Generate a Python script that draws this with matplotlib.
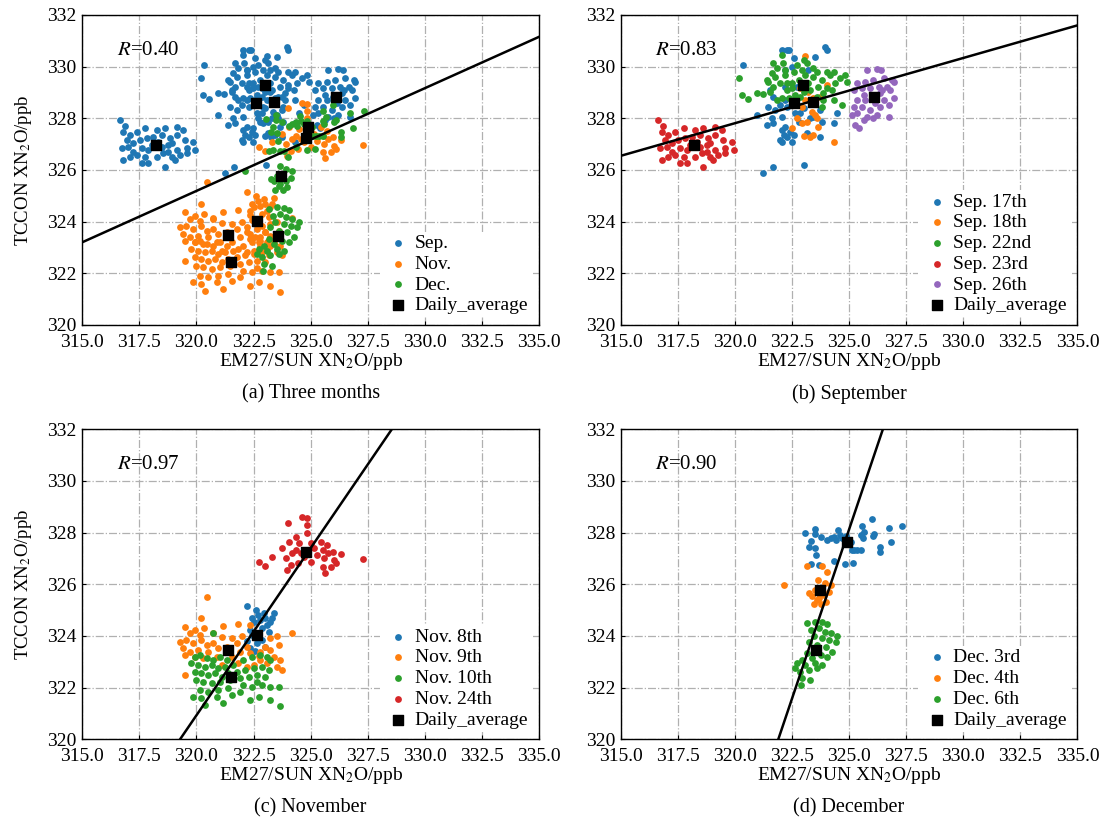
import numpy as np
import matplotlib
matplotlib.use("Agg")
import matplotlib.pyplot as plt

plt.rcParams['font.family'] = ['Liberation Serif', 'DejaVu Serif']
plt.rcParams['mathtext.fontset'] = 'stix'

# --- scatter points per day (EM27/SUN x, TCCON y) ---
sep17_x = [320.35, 321.25, 321.66, 323.04, 322.06, 322.28, 322.39, 322.57, 322.49, 323.22, 323.52, 323.96,
           324.03, 322.20, 321.54, 321.69, 321.47, 321.76, 321.62, 321.40, 321.69, 322.06, 322.20, 322.13,
           322.28, 321.98, 322.06, 322.49, 322.42, 322.57, 322.64, 322.86, 322.71, 323.01, 323.15, 323.30,
           323.74, 323.81, 324.32, 324.47, 322.57, 322.28, 321.98, 320.96, 322.06, 322.79, 322.20, 323.74,
           323.44, 322.20, 322.71]
sep17_y = [330.06, 325.87, 326.13, 326.19, 330.65, 330.65, 330.65, 330.32, 330.00, 329.87, 330.39, 330.77,
           330.65, 329.87, 329.10, 328.84, 328.45, 328.32, 328.00, 327.74, 327.81, 328.06, 327.68, 327.35,
           327.29, 327.16, 327.10, 327.10, 327.48, 327.35, 328.19, 328.19, 328.52, 328.39, 327.42, 328.00,
           327.29, 327.87, 327.81, 328.19, 328.71, 328.45, 328.52, 328.13, 327.55, 327.87, 329.23, 328.32,
           328.06, 328.71, 329.23]
sep18_x = [323.08, 322.49, 323.01, 323.27, 323.44, 323.15, 322.93, 323.37, 323.59, 323.66, 323.52, 322.93,
           323.08, 322.86, 323.44, 323.74, 324.03, 324.32, 322.71, 323.22]
sep18_y = [330.41, 327.64, 327.32, 327.26, 327.35, 327.87, 327.81, 328.26, 328.00, 327.68, 328.13, 328.45,
           328.71, 329.16, 328.77, 328.84, 329.29, 327.10, 328.00, 329.03]
sep22_x = [320.20, 320.30, 320.57, 320.96, 321.22, 321.40, 321.62, 321.69, 321.84, 322.06, 322.10, 322.20,
           321.98, 321.69, 321.47, 322.28, 322.49, 322.57, 322.71, 322.79, 322.93, 323.01, 323.22, 323.44,
           323.59, 323.66, 323.81, 324.03, 324.17, 324.25, 323.88, 324.39, 324.61, 324.83, 324.91, 324.69,
           324.32, 323.88, 323.44, 323.15, 322.49, 322.06, 321.84, 323.01, 322.20, 323.81, 324.03, 323.59,
           322.86, 322.35, 322.64, 323.30, 323.08, 324.32, 321.76, 321.54, 322.28]
sep22_y = [329.55, 328.90, 328.74, 328.97, 328.93, 329.48, 329.74, 330.13, 329.94, 330.45, 330.13, 329.68,
           329.35, 329.20, 329.42, 329.10, 329.35, 329.81, 330.06, 329.48, 329.87, 329.03, 329.35, 329.61,
           329.81, 329.23, 329.48, 329.81, 329.68, 329.10, 328.97, 329.35, 329.55, 329.68, 329.42, 328.52,
           328.71, 328.71, 329.94, 330.13, 329.16, 328.77, 328.71, 330.26, 329.87, 328.45, 329.16, 328.84,
           328.84, 328.77, 328.90, 329.10, 329.68, 329.81, 329.61, 329.03, 329.35]
sep23_x = [316.65, 316.87, 316.80, 317.09, 317.38, 317.75, 318.26, 318.62, 319.13, 319.43, 316.94, 317.24,
           317.53, 317.82, 318.11, 318.48, 318.84, 319.13, 319.50, 319.86, 316.72, 317.02, 317.60, 317.89,
           318.48, 318.77, 319.13, 319.57, 319.94, 316.80, 317.09, 317.38, 317.75, 318.26, 318.55, 318.92,
           319.28, 319.57, 317.60, 317.89, 318.62, 319.06, 317.24, 318.33, 318.92, 318.77, 318.04]
sep23_y = [327.94, 327.70, 327.48, 327.35, 327.48, 327.61, 327.55, 327.61, 327.68, 327.55, 327.16, 327.03,
           327.16, 327.23, 327.29, 327.35, 327.23, 327.35, 327.16, 327.10, 326.84, 326.90, 326.84, 326.77,
           326.90, 326.97, 326.77, 326.84, 326.77, 326.39, 326.52, 326.58, 326.52, 326.52, 326.65, 326.52,
           326.58, 326.65, 326.26, 326.26, 326.13, 326.39, 326.71, 327.10, 327.03, 326.71, 326.97]
sep26_x = [325.78, 326.22, 326.40, 325.34, 325.71, 326.07, 326.51, 326.88, 326.95, 325.20, 325.56, 325.93,
           326.29, 326.66, 325.64, 326.00, 326.37, 326.80, 326.95, 325.34, 325.71, 326.15, 326.51, 325.20,
           325.56, 325.93, 326.37, 326.73, 325.34, 325.78, 326.22, 326.73, 325.27, 325.42, 325.64, 326.04,
           326.44, 325.12]
sep26_y = [329.87, 329.90, 329.87, 329.35, 329.42, 329.48, 329.55, 329.48, 329.42, 329.10, 329.16, 329.16,
           329.23, 329.23, 328.90, 328.84, 328.97, 329.10, 328.77, 328.71, 328.71, 328.58, 328.71, 328.45,
           328.45, 328.32, 328.45, 328.52, 328.19, 328.06, 328.13, 328.06, 327.74, 327.61, 327.94, 328.00,
           329.10, 328.13]

nov8_x = [322.21, 322.62, 322.68, 322.43, 322.79, 323.02, 323.21, 323.41, 323.09, 322.87, 323.16, 322.65,
          322.35, 322.43, 322.87, 323.02, 322.65, 322.57, 322.35, 322.21, 322.53, 322.94, 323.31]
nov8_y = [325.16, 325.01, 324.81, 324.68, 324.62, 324.68, 324.56, 324.90, 324.43, 324.30, 324.17, 324.11,
          324.24, 324.05, 323.85, 323.59, 323.72, 323.40, 323.53, 323.79, 324.56, 324.88, 324.68]
nov9_x = [320.47, 320.22, 319.49, 319.93, 320.32, 321.18, 321.84, 322.35, 320.74, 321.10, 321.54, 321.99,
          319.26, 319.56, 319.85, 320.22, 320.44, 320.74, 319.41, 319.71, 320.07, 320.51, 320.96, 321.32,
          321.77, 322.21, 319.49, 319.93, 320.29, 320.88, 321.91, 322.35, 322.79, 323.24, 323.53, 323.60,
          323.24, 323.38, 323.68, 323.09, 323.53, 323.75, 322.79, 322.50, 322.21, 324.19, 319.49, 321.10,
          321.84, 321.54, 319.71, 320.15, 322.72, 323.02]
nov9_y = [325.52, 324.68, 324.36, 324.23, 324.30, 324.39, 324.47, 324.43, 324.10, 323.95, 323.91, 323.98,
          323.78, 323.85, 323.72, 323.85, 323.65, 323.72, 323.52, 323.39, 323.46, 323.39, 323.52, 323.59,
          323.72, 323.59, 323.27, 323.20, 323.14, 323.20, 323.39, 323.33, 323.39, 323.91, 323.98, 323.65,
          323.46, 323.20, 323.07, 322.94, 322.81, 322.69, 323.07, 322.88, 322.81, 324.13, 322.49, 322.88,
          322.94, 323.20, 324.10, 324.04, 323.23, 323.59]
nov10_x = [320.71, 319.93, 320.15, 320.44, 320.74, 321.03, 321.32, 319.78, 320.07, 320.37, 320.66, 320.96,
           321.25, 321.62, 322.06, 322.43, 322.79, 323.09, 323.24, 319.93, 320.22, 320.51, 320.81, 321.10,
           321.40, 321.77, 322.13, 322.50, 322.87, 323.16, 320.00, 320.29, 320.66, 321.03, 321.47, 321.91,
           322.28, 322.65, 323.02, 320.15, 320.51, 320.96, 321.40, 322.06, 322.43, 322.87, 323.24, 323.60,
           320.22, 320.88, 321.54, 322.35, 322.72, 323.24, 323.68, 320.37, 321.18, 319.85, 321.91, 322.65]
nov10_y = [324.13, 323.20, 323.27, 323.14, 323.07, 323.20, 323.07, 322.94, 322.88, 322.81, 322.88, 322.75,
           322.81, 322.88, 323.07, 323.20, 323.27, 323.20, 323.07, 322.62, 322.56, 322.49, 322.56, 322.43,
           322.56, 322.62, 322.69, 322.75, 322.81, 322.69, 322.30, 322.23, 322.17, 322.23, 322.30, 322.36,
           322.43, 322.49, 322.43, 321.91, 321.85, 321.91, 321.98, 322.10, 322.04, 322.10, 322.04, 322.04,
           321.59, 321.65, 321.72, 321.52, 321.65, 321.52, 321.27, 321.33, 321.40, 321.65, 321.85, 322.20]
nov24_x = [324.63, 324.82, 324.85, 324.00, 324.85, 324.38, 324.05, 324.49, 325.00, 325.44, 325.71, 325.52,
           326.00, 325.74, 326.33, 327.28, 326.03, 325.59, 325.30, 325.00, 323.75, 323.31, 324.19, 323.90,
           324.12, 323.97, 324.44, 322.72, 322.99, 325.52, 325.88, 325.62, 324.71, 325.15, 324.34, 324.56,
           326.10]
nov24_y = [328.59, 328.55, 328.30, 328.39, 328.00, 327.82, 327.65, 327.59, 327.61, 327.65, 327.52, 327.33,
           327.26, 327.20, 327.17, 326.98, 326.94, 327.01, 327.14, 326.88, 327.39, 327.07, 327.20, 327.01,
           326.75, 326.56, 326.81, 326.88, 326.72, 326.68, 326.68, 326.45, 327.07, 327.39, 327.33, 327.20,
           326.81]

dec3_x = [323.06, 323.50, 323.50, 323.75, 323.35, 323.26, 323.53, 323.56, 324.04, 324.19, 324.34, 324.41,
          324.53, 324.59, 324.71, 324.85, 325.07, 325.22, 325.37, 325.52, 325.12, 325.52, 325.59, 325.66,
          325.56, 326.00, 326.10, 326.03, 326.74, 327.32, 326.84, 326.35, 326.35, 324.34, 324.82, 325.18,
          323.35, 323.68]
dec3_y = [327.97, 328.13, 327.94, 327.85, 327.68, 327.46, 327.42, 327.14, 327.72, 327.78, 327.85, 327.72,
          328.10, 327.91, 327.78, 327.88, 327.65, 327.33, 327.33, 327.33, 327.33, 327.91, 327.78, 328.04,
          328.27, 328.53, 327.94, 327.87, 328.19, 328.27, 327.63, 327.46, 327.26, 326.90, 326.77, 326.81,
          326.77, 326.75]
dec4_x = [322.13, 323.16, 323.82, 324.02, 323.65, 323.94, 324.19, 323.26, 323.38, 323.68, 323.90, 324.12,
          323.46, 323.79, 323.60, 323.97, 323.53]
dec4_y = [325.97, 326.72, 326.72, 326.49, 326.17, 326.04, 325.97, 325.65, 325.56, 325.46, 325.59, 325.69,
          325.23, 325.23, 325.39, 325.33, 325.78]
dec6_x = [323.16, 323.53, 323.82, 324.04, 323.35, 323.68, 323.94, 324.19, 324.49, 324.41, 324.12, 323.82,
          323.46, 323.24, 323.60, 323.97, 324.27, 324.04, 323.75, 323.38, 323.16, 322.94, 322.72, 323.09,
          323.53, 323.82, 323.24, 322.87, 323.31, 322.94, 322.91, 323.60, 322.65]
dec6_y = [324.49, 324.56, 324.53, 324.45, 324.23, 324.30, 324.17, 324.10, 323.98, 323.78, 323.85, 323.91,
          323.98, 323.78, 323.65, 323.59, 323.39, 323.20, 323.27, 323.14, 323.33, 323.07, 322.94, 322.88,
          322.94, 322.88, 322.69, 322.62, 322.30, 322.36, 322.10, 322.75, 322.75]

# daily averages (black squares)
sep_avg_x = [322.60, 323.40, 322.98, 318.21, 326.10]
sep_avg_y = [328.60, 328.62, 329.27, 326.97, 328.84]
nov_avg_x = [322.65, 321.40, 321.50, 324.80]
nov_avg_y = [324.02, 323.47, 322.42, 327.25]
dec_avg_x = [324.90, 323.72, 323.55]
dec_avg_y = [327.65, 325.76, 323.46]

# fitted lines (slope, intercept) and correlation per panel
fit_slope = [0.3975, 0.2525, 1.294, 2.62]
fit_icpt = [197.99, 247.01, -93.15, -523.38]
r_values = [0.40, 0.83, 0.97, 0.90]

sep_days = ['Sep. 17th', 'Sep. 18th', 'Sep. 22nd', 'Sep. 23rd', 'Sep. 26th']
nov_days = ['Nov. 8th', 'Nov. 9th', 'Nov. 10th', 'Nov. 24th']
dec_days = ['Dec. 3rd', 'Dec. 4th', 'Dec. 6th']
titles = ['(a) Three months', '(b) September', '(c) November', '(d) December']

sep_pts = [(sep17_x, sep17_y), (sep18_x, sep18_y), (sep22_x, sep22_y), (sep23_x, sep23_y), (sep26_x, sep26_y)]
nov_pts = [(nov8_x, nov8_y), (nov9_x, nov9_y), (nov10_x, nov10_y), (nov24_x, nov24_y)]
dec_pts = [(dec3_x, dec3_y), (dec4_x, dec4_y), (dec6_x, dec6_y)]

colors = ['#1f77b4', '#ff7f0e', '#2ca02c', '#d62728', '#9467bd']
FS = 14
DOT = 24
SQ = 62

fig = plt.figure(figsize=(11.09, 8.18), dpi=100)
W, H = 0.4118, 0.379
axes = [fig.add_axes([0.0742, 0.6027, W, H]), fig.add_axes([0.5597, 0.6027, W, H]),
        fig.add_axes([0.0742, 0.0962, W, H]), fig.add_axes([0.5597, 0.0962, W, H])]


def concat(pts):
    return (np.concatenate([p[0] for p in pts]), np.concatenate([p[1] for p in pts]))


# panel (a): by month
ax = axes[0]
for (lab, pts), c in zip([('Sep.', sep_pts), ('Nov.', nov_pts), ('Dec.', dec_pts)], colors):
    xs, ys = concat(pts)
    ax.scatter(xs, ys, s=DOT, color=c, label=lab, linewidths=0, zorder=2)
ax.scatter(sep_avg_x + nov_avg_x + dec_avg_x, sep_avg_y + nov_avg_y + dec_avg_y,
           s=SQ, marker='s', color='black', label='Daily_average', zorder=4)

# panels (b)-(d): by day
for ax, days, pts, ax_x, ax_y in [(axes[1], sep_days, sep_pts, sep_avg_x, sep_avg_y),
                                  (axes[2], nov_days, nov_pts, nov_avg_x, nov_avg_y),
                                  (axes[3], dec_days, dec_pts, dec_avg_x, dec_avg_y)]:
    for lab, (xs, ys), c in zip(days, pts, colors):
        ax.scatter(xs, ys, s=DOT, color=c, label=lab, linewidths=0, zorder=2)
    ax.scatter(ax_x, ax_y, s=SQ, marker='s', color='black', label='Daily_average', zorder=4)

xline = np.array([310.0, 340.0])
for i, ax in enumerate(axes):
    ax.plot(xline, fit_slope[i] * xline + fit_icpt[i], color='black', lw=1.8, zorder=3)
    ax.set_xlim(315, 335)
    ax.set_ylim(320, 332)
    ax.set_xticks(np.arange(315, 335.1, 2.5))
    ax.set_xticklabels([f'{v:.1f}' for v in np.arange(315, 335.1, 2.5)])
    ax.set_yticks(np.arange(320, 332.1, 2))
    ax.tick_params(labelsize=FS, direction='in', length=3)
    ax.tick_params(axis='x', pad=6.5)
    ax.tick_params(axis='y', pad=4)
    ax.grid(True, color='#b0b0b0', linestyle='-.', lw=0.9)
    ax.set_axisbelow(True)
    ax.set_xlabel('EM27/SUN XN$_2$O/ppb', fontsize=FS, labelpad=0)
    ax.text(0.5, -0.222, titles[i], transform=ax.transAxes, ha='center', va='center', fontsize=FS + 0.5)
    ax.text(0.075, 0.885, f'$R$=%.2f' % r_values[i], transform=ax.transAxes,
            fontsize=FS + 1, va='center')
    ax.legend(loc='lower right', fontsize=FS, frameon=True, edgecolor='none', framealpha=1,
              handletextpad=0.05, borderpad=0.15, labelspacing=0.16, borderaxespad=0.4,
              markerscale=1.0, handlelength=1.6)
    for sp in ax.spines.values():
        sp.set_linewidth(1.0)

for ax in (axes[0], axes[2]):
    ax.set_ylabel('TCCON XN$_2$O/ppb', fontsize=FS - 0.5)
    ax.yaxis.set_label_coords(-0.105, 0.5)

fig.savefig('out.png', dpi=100)
